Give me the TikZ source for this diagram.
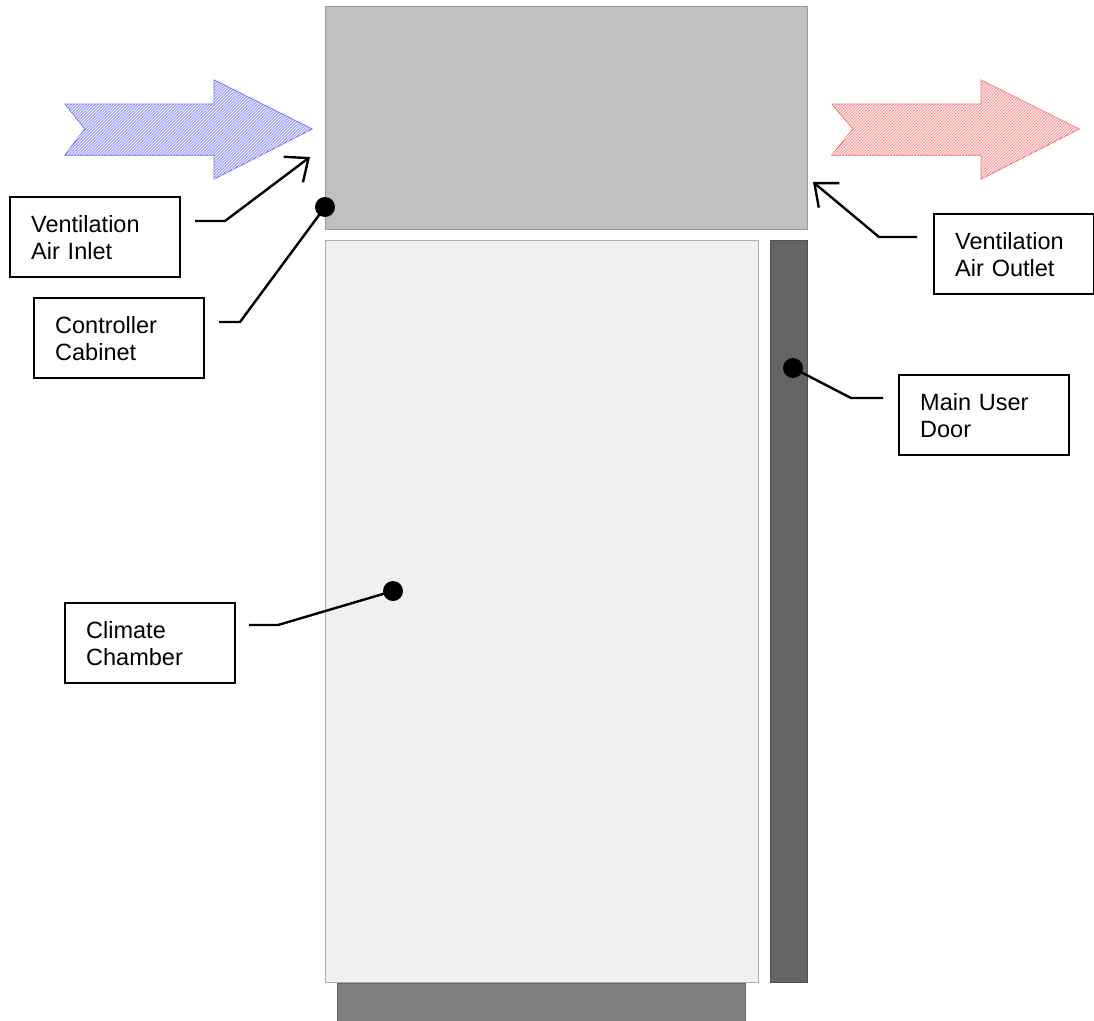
\documentclass[tikz,border=0pt]{standalone}
\usepackage{fontspec}
\setmainfont{Liberation Sans}
\usetikzlibrary{arrows.meta,patterns}
\definecolor{cabinetgray}{RGB}{192,192,192}
\definecolor{chambergray}{RGB}{240,240,240}
\definecolor{doorgray}{RGB}{100,100,100}
\definecolor{basegray}{RGB}{128,128,128}
\definecolor{inletfill}{RGB}{168,168,250}
\definecolor{inletline}{RGB}{110,110,240}
\definecolor{outletfill}{RGB}{250,168,168}
\definecolor{outletline}{RGB}{240,110,110}

\begin{document}
\begin{tikzpicture}[x=1pt,y=-1pt,
        callout/.style={draw, line width=2.4pt, anchor=north west, align=left, minimum height=80pt,
                inner xsep=21pt, text width=128pt, font=\fontsize{23.5}{27}\selectfont},
        leader/.style={line width=2.4pt, line join=miter},
        pointer/.style={leader, -{Straight Barb[length=19pt, width=32pt, line width=2.4pt]}},
        pin/.style={circle, fill=black, inner sep=0pt, minimum size=20pt},
        airflow/.style={line width=1pt, line join=miter}]
    \useasboundingbox (0,0) rectangle (1094,1020);

    % housing
    \draw[fill=cabinetgray, draw=gray!80] (325,6) rectangle (807,229);
    \draw[fill=chambergray, draw=gray!65] (325,240) rectangle (758,982);
    \draw[fill=doorgray, draw=doorgray!80!black] (770,240) rectangle (807,982);
    \draw[fill=basegray, draw=basegray!80!black] (337,983) rectangle (745,1022);

    % air flow
    \draw[airflow, draw=inletline, fill=inletfill, postaction={pattern=north east lines, pattern color=white}]
        (65,104) -- (214,104) -- (214,80) -- (312,129) -- (214,179) -- (214,155) -- (65,155) -- (85,129) -- cycle;
    \draw[airflow, draw=outletline, fill=outletfill, postaction={pattern=north east lines, pattern color=white}]
        (832,104) -- (981,104) -- (981,80) -- (1079,129) -- (981,179) -- (981,155) -- (832,155) -- (853,129) -- cycle;

    % labels
    \node[callout] (inlet) at (9,196) {Ventilation\\Air Inlet};
    \node[callout] (cabinet) at (33,297) {Controller\\Cabinet};
    \node[callout, text width=118pt] (outlet) at (933,213) {Ventilation\\Air Outlet};
    \node[callout] (door) at (898,374) {Main User\\Door};
    \node[callout] (chamber) at (64,602) {Climate\\Chamber};

    % leader lines
    \coordinate (inletfoot) at (195,221);
    \coordinate (inletbend) at (225,221);
    \coordinate (inlettip) at (310,157);
    \coordinate (outletfoot) at (917,237);
    \coordinate (outletbend) at (879,237);
    \coordinate (outlettip) at (813,182);
    \coordinate (cabinetfoot) at (219,322);
    \coordinate (cabinetbend) at (240,322);
    \coordinate (doorfoot) at (883,398);
    \coordinate (doorbend) at (851,398);
    \coordinate (chamberfoot) at (249,625);
    \coordinate (chamberbend) at (278,625);

    \node[pin] (cabinetpin) at (325,207) {};
    \node[pin] (doorpin) at (793,368) {};
    \node[pin] (chamberpin) at (393,591) {};

    \draw[pointer] (inletfoot) -- (inletbend) -- (inlettip);
    \draw[pointer] (outletfoot) -- (outletbend) -- (outlettip);
    \draw[leader] (cabinetfoot) -- (cabinetbend) -- (cabinetpin.center);
    \draw[leader] (doorfoot) -- (doorbend) -- (doorpin.center);
    \draw[leader] (chamberfoot) -- (chamberbend) -- (chamberpin.center);
\end{tikzpicture}
\end{document}
